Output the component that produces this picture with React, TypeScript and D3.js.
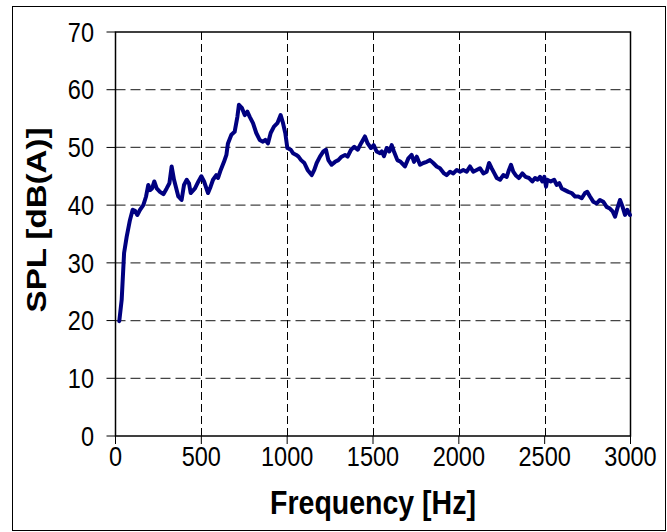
import React from "react";
import * as d3 from "d3";

// Frequency response: A-weighted sound pressure level vs. frequency
const freq = [
  22, 36, 50, 65, 84, 100, 114, 127, 143, 162, 178, 191, 201, 213, 226, 240, 259, 279, 298, 314,
  327, 341, 366, 385, 399, 415, 428, 438, 463, 483, 500, 516, 539, 554, 568, 587, 597, 613, 632, 646,
  655, 675, 694, 710, 719, 737, 753, 768, 782, 801, 820, 840, 859, 873, 888, 904, 923, 943, 962, 976,
  989, 1001, 1021, 1034, 1053, 1066, 1081, 1100, 1119, 1143, 1158, 1172, 1191, 1211, 1226, 1240, 1259, 1279, 1298, 1317,
  1337, 1352, 1372, 1391, 1411, 1430, 1453, 1469, 1488, 1504, 1521, 1541, 1551, 1564, 1580, 1595, 1609, 1622, 1642, 1661,
  1686, 1706, 1725, 1739, 1755, 1774, 1793, 1813, 1832, 1851, 1871, 1890, 1914, 1929, 1949, 1968, 1988, 2007, 2026, 2046,
  2065, 2084, 2104, 2123, 2143, 2162, 2176, 2191, 2207, 2221, 2240, 2259, 2279, 2292, 2304, 2317, 2331, 2350, 2370, 2389,
  2409, 2428, 2444, 2459, 2473, 2486, 2498, 2508, 2515, 2535, 2555, 2570, 2585, 2599, 2618, 2638, 2657, 2677, 2696, 2716,
  2735, 2748, 2764, 2783, 2803, 2822, 2841, 2861, 2880, 2896, 2910, 2923, 2939, 2954, 2968, 2981, 2997,
];
const spl = [
  19.9, 23.6, 31.7, 34.5, 37.4, 39.2, 39.0, 38.3, 39.2, 40.0, 41.5, 43.5, 42.6, 42.9, 44.1, 42.9, 42.3, 41.9, 42.9, 43.8,
  46.7, 44.4, 41.5, 40.9, 43.5, 44.4, 43.8, 42.1, 42.9, 44.1, 45.0, 44.1, 42.1, 43.2, 44.4, 45.2, 44.7, 46.1, 47.5, 48.7,
  50.7, 52.2, 52.7, 55.3, 57.4, 56.8, 55.6, 56.2, 55.3, 54.2, 52.5, 51.3, 51.0, 51.3, 50.7, 52.5, 53.6, 54.2, 55.6, 54.2,
  52.5, 49.9, 49.6, 49.0, 48.7, 48.4, 47.8, 47.3, 46.1, 45.2, 46.1, 47.3, 48.4, 49.3, 49.6, 47.8, 47.0, 47.5, 47.8, 48.4,
  48.7, 48.4, 49.6, 50.1, 49.6, 50.7, 51.9, 50.7, 49.9, 50.4, 49.3, 49.0, 49.3, 48.5, 49.9, 49.3, 50.4, 49.3, 47.8, 47.5,
  46.7, 48.1, 48.7, 47.5, 48.4, 47.0, 47.3, 47.5, 47.8, 47.3, 46.7, 46.4, 45.5, 45.2, 45.8, 45.5, 46.1, 45.8, 46.1, 45.8,
  46.7, 45.8, 46.1, 46.4, 45.5, 45.8, 47.3, 46.4, 45.5, 44.7, 44.4, 45.2, 44.9, 46.1, 47.0, 45.8, 45.2, 44.7, 45.5, 44.9,
  44.7, 44.1, 44.7, 44.4, 44.9, 44.1, 44.9, 43.2, 44.4, 44.1, 44.4, 43.5, 43.8, 42.9, 42.6, 42.3, 42.1, 41.5, 41.5, 41.2,
  42.1, 42.3, 41.5, 40.6, 40.3, 40.9, 40.6, 39.7, 39.4, 38.9, 38.0, 39.4, 40.9, 39.7, 38.3, 39.2, 38.3,
];

const xTicks = [0, 500, 1000, 1500, 2000, 2500, 3000];
const yTicks = [0, 10, 20, 30, 40, 50, 60, 70];

const W = 667;
const H = 532;
const plot = { left: 115.5, right: 630.5, top: 32, bottom: 436 };
const FONT = "'Liberation Sans', Arial, sans-serif";
// glyphs are drawn slightly taller than wide
const TEXT_STRETCH = 1.16;
const TICK_FONT = 23.5;

export default function App() {
  const x = d3.scaleLinear().domain([0, 3000]).range([plot.left, plot.right]);
  const y = d3.scaleLinear().domain([0, 70]).range([plot.bottom, plot.top]);

  const points: [number, number][] = freq.map((f, i) => [f, spl[i]]);
  const line = d3
    .line<[number, number]>()
    .x((d) => x(d[0]))
    .y((d) => y(d[1]))
    .curve(d3.curveLinear);

  const digitHalf = (TICK_FONT * 0.716 * TEXT_STRETCH) / 2;

  return (
    <svg
      width={W}
      height={H}
      style={{ position: "absolute", left: 0, top: 0, background: "#fff" }}
    >
      <rect x={0} y={0} width={W} height={H} fill="#fff" />
      {/* chart frame */}
      <rect x={12.5} y={6.5} width={653} height={524} fill="none" stroke="#000" strokeWidth={1} />

      {/* gridlines */}
      {yTicks
        .filter((t) => t > 0 && t < 70)
        .map((t) => (
          <line
            key={`gy${t}`}
            x1={plot.left}
            x2={plot.right}
            y1={y(t)}
            y2={y(t)}
            stroke="#444"
            strokeWidth={1.2}
            strokeDasharray="10,5"
          />
        ))}
      {xTicks
        .filter((t) => t > 0 && t < 3000)
        .map((t) => (
          <line
            key={`gx${t}`}
            x1={Math.round(x(t)) + 0.5}
            x2={Math.round(x(t)) + 0.5}
            y1={plot.top}
            y2={plot.bottom}
            stroke="#000"
            strokeWidth={1}
            strokeDasharray="8,4"
          />
        ))}

      {/* plot area border */}
      <rect
        x={plot.left}
        y={plot.top}
        width={plot.right - plot.left}
        height={plot.bottom - plot.top}
        fill="none"
        stroke="#000"
        strokeWidth={1.5}
      />

      {/* y ticks and labels */}
      {yTicks.map((t) => (
        <g key={`ty${t}`}>
          <line x1={plot.left - 9} x2={plot.left} y1={y(t)} y2={y(t)} stroke="#000" strokeWidth={1} />
          <g transform={`translate(94, ${y(t) + digitHalf}) scale(1, ${TEXT_STRETCH})`}>
            <text textAnchor="end" fontFamily={FONT} fontSize={TICK_FONT} fill="#000">
              {t}
            </text>
          </g>
        </g>
      ))}

      {/* x ticks and labels */}
      {xTicks.map((t) => (
        <g key={`tx${t}`}>
          <line x1={x(t)} x2={x(t)} y1={plot.bottom} y2={plot.bottom + 8} stroke="#000" strokeWidth={1} />
          <g transform={`translate(${x(t)}, 466) scale(1, ${TEXT_STRETCH})`}>
            <text textAnchor="middle" fontFamily={FONT} fontSize={TICK_FONT} fill="#000">
              {t}
            </text>
          </g>
        </g>
      ))}

      {/* data series */}
      <path
        d={line(points) ?? ""}
        fill="none"
        stroke="#000080"
        strokeWidth={4}
        strokeLinejoin="round"
        strokeLinecap="round"
      />

      {/* axis titles */}
      <g transform={`translate(${(plot.left + plot.right) / 2}, 514) scale(1, ${TEXT_STRETCH})`}>
        <text textAnchor="middle" fontFamily={FONT} fontSize={28.5} fontWeight="bold" fill="#000">
          Frequency [Hz]
        </text>
      </g>
      <g transform={`translate(46, 220) scale(1, ${TEXT_STRETCH}) rotate(-90)`}>
        <text textAnchor="middle" fontFamily={FONT} fontSize={28.5} fontWeight="bold" fill="#000">
          SPL [dB(A)]
        </text>
      </g>
    </svg>
  );
}
